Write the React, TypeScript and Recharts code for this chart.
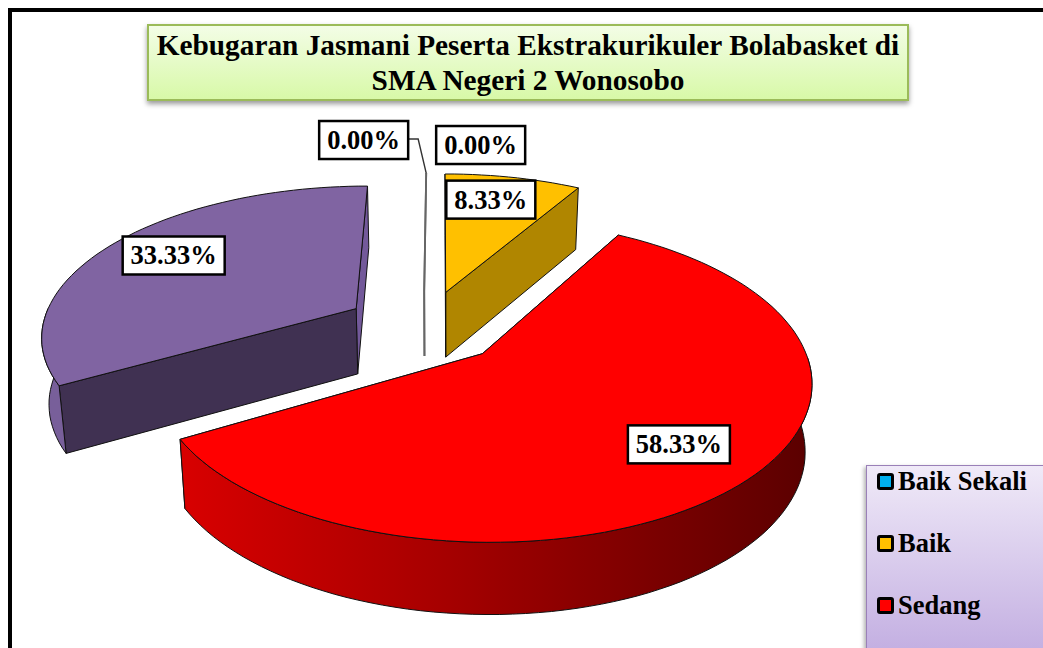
import { Cell, Legend, Pie, PieChart } from 'recharts';

const categories = ['Baik Sekali', 'Baik', 'Sedang', 'Kurang', 'Kurang Sekali'];
const percentages = [0, 8.33, 58.33, 33.33, 0];
const legendCategories = ['Baik Sekali', 'Baik', 'Sedang'];
const sliceColors = ['#00B0F0', '#FFC000', '#FF0000', '#8064A2', '#7F7F7F'];
const startWallColors = ['#666666', '#B08600', '#A00000', '#403152', '#666666'];
const endWallColors = ['#666666', '#B08600', '#A00000', '#73599A', '#666666'];
const rimColors = ['#666666', '#B08600', 'url(#redWall)', '#785F9A', '#666666'];
const sliceNudge = [-2, 0, 0, -3, -2];
const labelShift = [
  [53, -60],
  [-4, -9],
  [18, 6],
  [-13, -6],
  [-64, -65],
];

const FONT = '"Liberation Serif", "Times New Roman", serif';
const EXPLODE = 0.25;
const RAD = Math.PI / 180;

const chartData = categories.map((name, i) => ({ name, value: percentages[i] }));

// ground plane -> screen, the pie is a unit circle lying on a plane seen in perspective
function project(cx: number, gx: number, gy: number) {
  const X = gx - 0.049;
  const Y = gy + 0.177;
  const h = 1 / (0.001071 + 0.00018 * Y);
  return [cx + X * 0.3467 * h, h - 580];
}

// same point on the underside of the slice
function drop(cx: number, p: number[]) {
  return [cx + (p[0] - cx) * 0.9815, p[1] + 66.5 + (p[1] - 350) * 0.03];
}

function toPath(points: number[][]) {
  return 'M' + points.map(p => p[0].toFixed(1) + ',' + p[1].toFixed(1)).join('L') + 'Z';
}

function Slice3D(props: any) {
  const { startAngle, endAngle, index } = props;
  const cx = props.cx + sliceNudge[index];
  const mid = ((startAngle + endAngle) / 2) * RAD;
  const ox = Math.cos(mid) * EXPLODE;
  const oy = Math.sin(mid) * EXPLODE;
  const at = (deg: number) => project(cx, ox + Math.cos(deg * RAD), oy + Math.sin(deg * RAD));

  const apex = project(cx, ox, oy);
  const sweep = Math.abs(startAngle - endAngle);
  const steps = Math.max(1, Math.ceil(sweep / 2));
  const arc: number[][] = [];
  for (let i = 0; i <= steps; i++) arc.push(at(startAngle + ((endAngle - startAngle) * i) / steps));

  const first = arc[0];
  const last = arc[arc.length - 1];

  if (sweep === 0) {
    const line = [first, apex, drop(cx, apex)];
    return (
      <path
        d={'M' + line.map(p => p.join(',')).join('L')}
        fill="none"
        stroke="#666666"
        strokeWidth={1.8}
      />
    );
  }

  // the rim only faces the viewer on the near half of the circle
  const rim: number[][] = [];
  for (let i = 0; i <= steps; i++) {
    const deg = startAngle + ((endAngle - startAngle) * i) / steps;
    const norm = ((deg % 360) + 360) % 360;
    if (norm >= 180 && norm <= 360) rim.push(at(deg));
  }

  const edge = { stroke: '#111111', strokeWidth: 1, strokeLinejoin: 'round' as const };

  return (
    <g>
      <defs>
        <linearGradient id="redWall" gradientUnits="userSpaceOnUse" x1="182" y1="0" x2="812" y2="0">
          <stop offset="0" stopColor="#D80000" />
          <stop offset="0.4" stopColor="#A80000" />
          <stop offset="1" stopColor="#5A0000" />
        </linearGradient>
      </defs>
      <path d={toPath([apex, last, drop(cx, last), drop(cx, apex)])} fill={endWallColors[index]} {...edge} />
      <path d={toPath([apex, first, drop(cx, first), drop(cx, apex)])} fill={startWallColors[index]} {...edge} />
      {rim.length > 1 ? (
        <path
          d={toPath([...rim, ...rim.map(p => drop(cx, p)).reverse()])}
          fill={rimColors[index]}
          {...edge}
        />
      ) : null}
      <path d={toPath([apex, ...arc])} fill={sliceColors[index]} {...edge} />
    </g>
  );
}

function SliceLabel(props: any) {
  const { cx, midAngle, index, value } = props;
  const ox = Math.cos(midAngle * RAD) * (EXPLODE + 0.7);
  const oy = Math.sin(midAngle * RAD) * (EXPLODE + 0.7);
  const p = project(cx, ox, oy);
  const x = p[0] + labelShift[index][0];
  const y = p[1] + labelShift[index][1];
  const text = Number(value).toFixed(2) + '%';
  const w = text.length === 5 ? 89 : 102;
  const h = 38;
  const rimTop = project(cx + sliceNudge[index], 0, EXPLODE + 1);
  return (
    <g>
      {index === 4 ? (
        <path
          d={`M${x + w / 2} ${y - 1}h10L${rimTop[0]} ${rimTop[1]}`}
          fill="none"
          stroke="#333333"
          strokeWidth={1.4}
        />
      ) : null}
      <rect x={x - w / 2} y={y - h / 2} width={w} height={h} fill="#FFFFFF" stroke="#000000" strokeWidth={2.5} />
      <text
        x={x}
        y={y + 9}
        textAnchor="middle"
        fontFamily={FONT}
        fontWeight="bold"
        fontSize={26.5}
        fill="#000000"
      >
        {text}
      </text>
    </g>
  );
}

function LegendBox() {
  return (
    <div
      style={{
        width: 220,
        height: 300,
        boxSizing: 'border-box',
        border: '1.5px solid #9A80B8',
        boxShadow: '-2px 2px 4px rgba(0,0,0,0.3)',
        background: 'linear-gradient(#F0EAF8, #C4B0E2 61%, #B8A2DA)',
        fontFamily: FONT,
        fontWeight: 'bold',
        fontSize: 26.5,
        color: '#000',
      }}
    >
      {legendCategories.map((name, i) => (
        <div
          key={name}
          style={{ position: 'absolute', left: 11, top: i * 62, height: 32, display: 'flex', alignItems: 'center', whiteSpace: 'nowrap' }}
        >
          <span
            style={{
              display: 'inline-block',
              width: 11,
              height: 11,
              marginRight: 4,
              border: '3.5px solid #000',
              borderRadius: 3,
              background: sliceColors[i],
            }}
          />
          {name}
        </div>
      ))}
    </div>
  );
}

export default function App() {
  return (
    <div
      style={{
        position: 'fixed',
        left: 8,
        top: 8,
        width: 1035,
        height: 640,
        boxSizing: 'border-box',
        borderLeft: '4px solid #000',
        borderTop: '4px solid #000',
        overflow: 'hidden',
        background: '#fff',
      }}
    >
      <div style={{ position: 'absolute', left: -12, top: -12, width: 1043, height: 648 }}>
        <PieChart width={1043} height={648} margin={{ top: 0, right: 0, bottom: 0, left: 0 }}>
          <Pie
            data={chartData}
            dataKey="value"
            nameKey="name"
            cx={441}
            cy={330}
            outerRadius={320}
            startAngle={90}
            endAngle={-270}
            stroke="none"
            isAnimationActive={false}
            shape={Slice3D}
            label={SliceLabel}
            labelLine={false}
          >
            {categories.map((name, i) => (
              <Cell key={name} fill={sliceColors[i]} />
            ))}
          </Pie>
          <Legend
            content={<LegendBox />}
            wrapperStyle={{ position: 'absolute', left: 866, top: 465, width: 220, height: 300, bottom: 'auto' }}
          />
        </PieChart>
        <div
          style={{
            position: 'absolute',
            left: 147,
            top: 24,
            width: 762,
            height: 77,
            boxSizing: 'border-box',
            border: '2px solid #9BBB59',
            boxShadow: '0 3px 5px rgba(0,0,0,0.4)',
            background: 'linear-gradient(#F3FDE6, #D8F9A8)',
            fontFamily: FONT,
            fontWeight: 'bold',
            fontSize: 29.3,
            lineHeight: '35px',
            textAlign: 'center',
            paddingTop: 2,
            color: '#000',
            whiteSpace: 'nowrap',
          }}
        >
          Kebugaran Jasmani Peserta Ekstrakurikuler Bolabasket di
          <br />
          SMA Negeri 2 Wonosobo
        </div>
      </div>
    </div>
  );
}
